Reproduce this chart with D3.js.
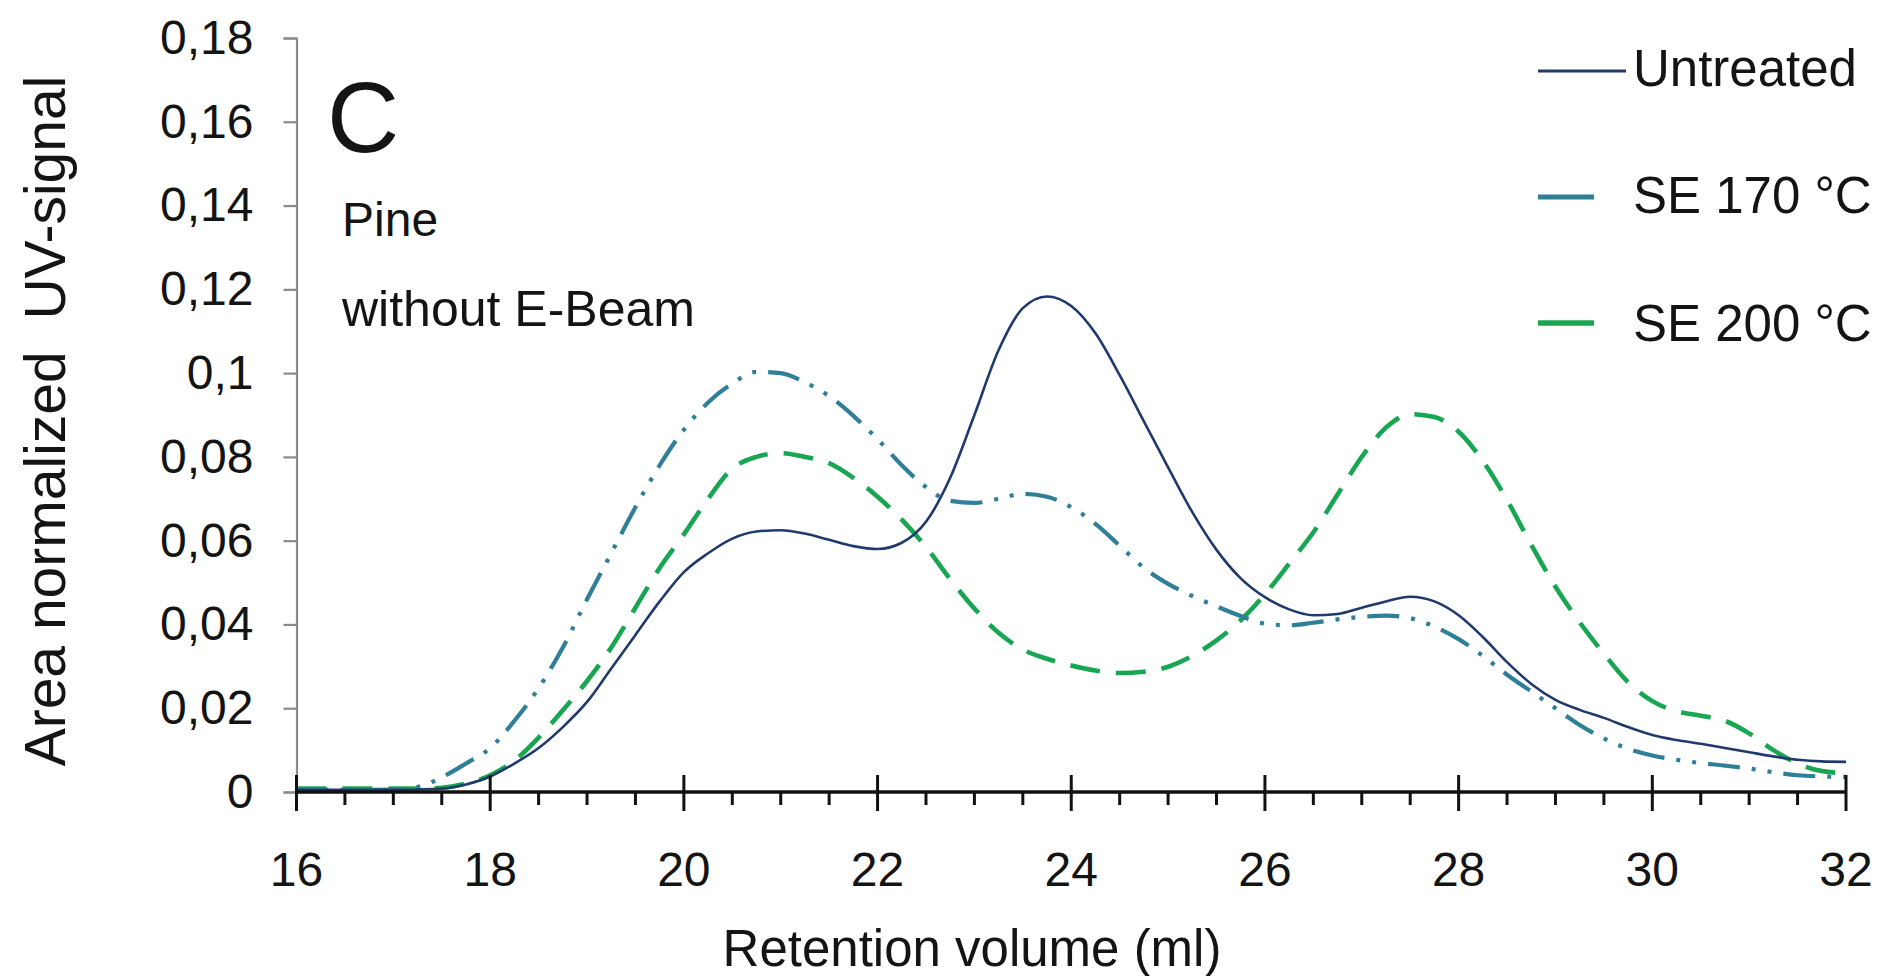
<!DOCTYPE html>
<html>
<head>
<meta charset="utf-8">
<script src="https://cdn.jsdelivr.net/npm/d3@7"></script>
<style>
  html, body { margin: 0; padding: 0; background: #ffffff; }
  svg { display: block; }
  text { font-family: "Liberation Sans", Arial, sans-serif; fill: #141414; }
</style>
</head>
<body>
<svg id="chart" width="1881" height="976"></svg>
<script>
// Retention volume grid (ml)
const retention = [16, 16.5, 17, 17.25, 17.5, 17.75, 18, 18.25, 18.5, 18.75, 19, 19.25, 19.5, 19.75,
  20, 20.25, 20.5, 20.75, 21, 21.25, 21.5, 21.75, 22, 22.25, 22.5, 22.75, 23, 23.25, 23.5, 23.75,
  24, 24.25, 24.5, 24.75, 25, 25.25, 25.5, 25.75, 26, 26.25, 26.5, 26.75, 27, 27.25, 27.5, 27.75,
  28, 28.25, 28.5, 28.75, 29, 29.25, 29.5, 29.75, 30, 30.25, 30.5, 30.75, 31, 31.25, 31.5, 31.75, 32];

// Area normalized UV-signal, one array per sample
const untreated = [0.0005, 0.0005, 0.0005, 0.0006, 0.0008, 0.0018, 0.0037, 0.0068, 0.0105, 0.0155, 0.0215, 0.0295, 0.0375, 0.0455,
  0.0525, 0.0570, 0.0605, 0.0622, 0.0625, 0.0617, 0.0602, 0.0587, 0.0580, 0.0595, 0.0645, 0.0750, 0.0900, 0.1055, 0.1155, 0.1183,
  0.1160, 0.1095, 0.0995, 0.0885, 0.0775, 0.0668, 0.0578, 0.0510, 0.0465, 0.0436, 0.0422, 0.0425, 0.0440, 0.0455, 0.0466, 0.0455,
  0.0422, 0.0370, 0.0310, 0.0258, 0.0220, 0.0196, 0.0177, 0.0155, 0.0136, 0.0124, 0.0115, 0.0105, 0.0095, 0.0085, 0.0077, 0.0073, 0.0072];

const se170 = [0.0005, 0.0005, 0.0006, 0.0012, 0.0035, 0.0068, 0.0105, 0.0170, 0.0248, 0.0345, 0.0460, 0.0570, 0.0680, 0.0780,
  0.0865, 0.0930, 0.0975, 0.1003, 0.1000, 0.0978, 0.0945, 0.0898, 0.0842, 0.0780, 0.0728, 0.0695, 0.0690, 0.0700, 0.0712, 0.0705,
  0.0680, 0.0640, 0.0588, 0.0535, 0.0497, 0.0468, 0.0443, 0.0420, 0.0402, 0.0398, 0.0404, 0.0412, 0.0418, 0.0421, 0.0415, 0.0395,
  0.0365, 0.0325, 0.0280, 0.0240, 0.0200, 0.0160, 0.0128, 0.0103, 0.0087, 0.0077, 0.0069, 0.0063, 0.0056, 0.0047, 0.0040, 0.0037, 0.0036];

const se200 = [0.0008, 0.0008, 0.0008, 0.0008, 0.0010, 0.0020, 0.0040, 0.0075, 0.0130, 0.0195, 0.0265, 0.0345, 0.0440, 0.0535,
  0.0615, 0.0700, 0.0772, 0.0800, 0.0809, 0.0800, 0.0785, 0.0750, 0.0705, 0.0650, 0.0585, 0.0508, 0.0438, 0.0380, 0.0340, 0.0318,
  0.0302, 0.0290, 0.0284, 0.0287, 0.0299, 0.0325, 0.0362, 0.0410, 0.0472, 0.0545, 0.0620, 0.0710, 0.0800, 0.0870, 0.0902, 0.0895,
  0.0860, 0.0790, 0.0697, 0.0590, 0.0490, 0.0405, 0.0330, 0.0262, 0.0217, 0.0193, 0.0182, 0.0170, 0.0140, 0.0100, 0.0068, 0.0050, 0.0045];

const seriesNames = ["Untreated", "SE 170 °C", "SE 200 °C"];
const xTicks = [16, 18, 20, 22, 24, 26, 28, 30, 32];
const yTicks = [0, 0.02, 0.04, 0.06, 0.08, 0.1, 0.12, 0.14, 0.16, 0.18];

const series = [
  { name: seriesNames[0], values: untreated, color: "#1f3a6b", width: 2.6, dash: null },
  { name: seriesNames[1], values: se170, color: "#2e7f97", width: 4.2, dash: "32,12,4,12,4,12" },
  { name: seriesNames[2], values: se200, color: "#18a652", width: 4.6, dash: "30,16" }
];

const svg = d3.select("#chart");

const x = d3.scaleLinear().domain([16, 32]).range([296.5, 1846]);
const y = d3.scaleLinear().domain([0, 0.18]).range([792, 38]);

const fmt = v => (+v.toFixed(2)).toString().replace(".", ",");

// Y axis (grey, outer ticks on the left)
const yAxis = svg.append("g")
  .attr("transform", `translate(${x(16)},0)`)
  .call(d3.axisLeft(y).tickValues(yTicks).tickFormat(fmt).tickSize(13).tickPadding(30));
yAxis.select(".domain").attr("stroke", "#8a8a8a").attr("stroke-width", 2.2);
yAxis.selectAll(".tick line").attr("stroke", "#8a8a8a").attr("stroke-width", 2.2);
yAxis.selectAll(".tick text")
  .attr("font-size", 48)
  .attr("fill", "#141414")
  .style("font-family", "'Liberation Sans', Arial, sans-serif");

// Curves
const line = d3.line()
  .x((d, i) => x(retention[i]))
  .y(d => y(d))
  .curve(d3.curveMonotoneX);

const curves = svg.append("g");
// green underneath, then teal, navy on top
[series[2], series[1], series[0]].forEach(s => {
  curves.append("path")
    .datum(s.values)
    .attr("d", line)
    .attr("fill", "none")
    .attr("stroke", s.color)
    .attr("stroke-width", s.width)
    .attr("stroke-dasharray", s.dash)
    .attr("stroke-linejoin", "round");
});

// X axis (black, major ticks across the line, minor ticks below)
const xAxisG = svg.append("g");
const minorTicks = d3.range(16, 32.01, 0.5).filter(v => v % 2 !== 0);
xAxisG.selectAll("line.minor")
  .data(minorTicks)
  .join("line")
  .attr("x1", d => x(d)).attr("x2", d => x(d))
  .attr("y1", y(0)).attr("y2", y(0) + 13)
  .attr("stroke", "#111").attr("stroke-width", 3);
xAxisG.selectAll("line.major")
  .data(xTicks)
  .join("line")
  .attr("x1", d => x(d)).attr("x2", d => x(d))
  .attr("y1", y(0) - 17).attr("y2", y(0) + 19)
  .attr("stroke", "#111").attr("stroke-width", 3);
xAxisG.append("line")
  .attr("x1", x(16)).attr("x2", x(32))
  .attr("y1", y(0)).attr("y2", y(0))
  .attr("stroke", "#111").attr("stroke-width", 3.5);
xAxisG.selectAll("text.xt")
  .data(xTicks)
  .join("text")
  .attr("x", d => x(d))
  .attr("y", 886)
  .attr("text-anchor", "middle")
  .attr("font-size", 48)
  .text(d => d);

// Axis titles
svg.append("text")
  .attr("x", 972).attr("y", 966)
  .attr("text-anchor", "middle")
  .attr("font-size", 51)
  .text("Retention volume (ml)");

svg.append("text")
  .attr("transform", "translate(65,421) rotate(-90)")
  .attr("text-anchor", "middle")
  .attr("font-size", 57)
  .style("white-space", "pre")
  .text("Area normalized  UV-signal");

// Panel annotations
svg.append("text").attr("x", 327).attr("y", 152).attr("font-size", 100).text("C");
svg.append("text").attr("x", 342).attr("y", 236).attr("font-size", 48).text("Pine");
svg.append("text").attr("x", 342).attr("y", 326).attr("font-size", 50).text("without E-Beam");

// Legend
const legendRows = [
  { s: series[0], y: 71, x2: 1626, ty: 86 },
  { s: series[1], y: 197, x2: 1594, ty: 213 },
  { s: series[2], y: 323, x2: 1594, ty: 341 }
];
const legend = svg.append("g");
legendRows.forEach(r => {
  legend.append("line")
    .attr("x1", 1538).attr("x2", r.x2)
    .attr("y1", r.y).attr("y2", r.y)
    .attr("stroke", r.s.color)
    .attr("stroke-width", r.s.width + (r.s.dash ? 1 : 0.4));
  legend.append("text")
    .attr("x", 1633).attr("y", r.ty)
    .attr("font-size", 51)
    .text(r.s.name);
});
</script>
</body>
</html>
